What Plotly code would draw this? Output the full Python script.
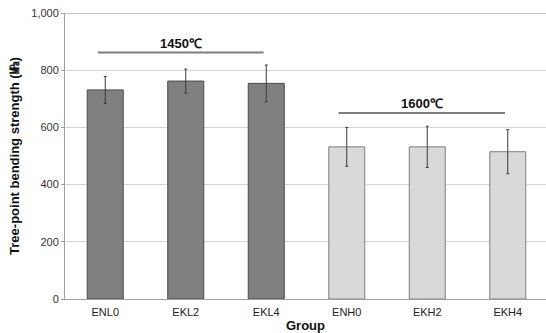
import plotly.graph_objects as go

groups = ["ENL0", "EKL2", "EKL4", "ENH0", "EKH2", "EKH4"]
strength = [731, 762, 754, 532, 532, 515]
err = [47, 42, 64, 68, 72, 77]
bar_colors = ["#808080", "#808080", "#808080", "#d9d9d9", "#d9d9d9", "#d9d9d9"]
line_colors = ["#4a4a4a", "#4a4a4a", "#4a4a4a", "#7f7f7f", "#7f7f7f", "#7f7f7f"]
y_ticks = [0, 200, 400, 600, 800, 1000]
y_tick_labels = ["0", "200", "400", "600", "800", "1,000"]

brackets = [
    {"label": "1450℃", "x0": -0.093, "x1": 1.967, "y": 862, "ty": 895},
    {"label": "1600℃", "x0": 2.897, "x1": 4.966, "y": 650, "ty": 683},
]

FONT = "Arial, Liberation Sans, sans-serif"

fig = go.Figure()
fig.add_trace(go.Bar(
    x=list(range(len(groups))),
    y=strength,
    width=0.447,
    marker=dict(color=bar_colors, line=dict(color=line_colors, width=1)),
    error_y=dict(type="data", array=err, visible=True, color="#3a3a3a", thickness=1, width=1.5),
    showlegend=False,
    hoverinfo="skip",
))

for b in brackets:
    fig.add_shape(type="line", xref="x", yref="y", x0=b["x0"], x1=b["x1"], y0=b["y"], y1=b["y"],
                  line=dict(color="#7f7f7f", width=2))
    fig.add_annotation(x=(b["x0"] + b["x1"]) / 2, y=b["ty"], xref="x", yref="y", text="<b>" + b["label"] + "</b>",
                       showarrow=False, font=dict(family=FONT, size=13, color="#111"))

fig.update_layout(
    width=546, height=333,
    margin=dict(l=65, r=0, t=13, b=34),
    paper_bgcolor="white", plot_bgcolor="white",
    font=dict(family=FONT, size=11, color="#333"),
    xaxis=dict(
        tickmode="array", tickvals=list(range(len(groups))), ticktext=groups,
        range=[-0.5, 5.475], showgrid=False, zeroline=False,
        showline=True, linecolor="#a0a0a0", linewidth=1, ticks="",
        tickfont=dict(size=11, color="#222"), ticklabelstandoff=3,
        title=dict(text="<b>Group</b>", font=dict(size=13, color="#111"), standoff=4),
        automargin=False,
    ),
    yaxis=dict(
        range=[0, 1000], tickmode="array", tickvals=y_ticks, ticktext=y_tick_labels,
        showgrid=True, gridcolor="#d4d4d4", gridwidth=1, zeroline=False,
        showline=True, linecolor="#a0a0a0", linewidth=1, ticks="outside", ticklen=3, tickcolor="#a0a0a0",
        tickfont=dict(size=11, color="#333"),
        title=dict(text="<b>Tree-point bending strength (㎫)</b>", font=dict(size=13, color="#111"), standoff=8),
        automargin=False,
    ),
)
fig.add_shape(type="line", xref="paper", yref="y", x0=0, x1=1, y0=1000, y1=1000,
              line=dict(color="#8a8a8a", width=1))

fig.write_html("out.html", config={"displayModeBar": False},
               post_script="document.body.style.margin='0';")
